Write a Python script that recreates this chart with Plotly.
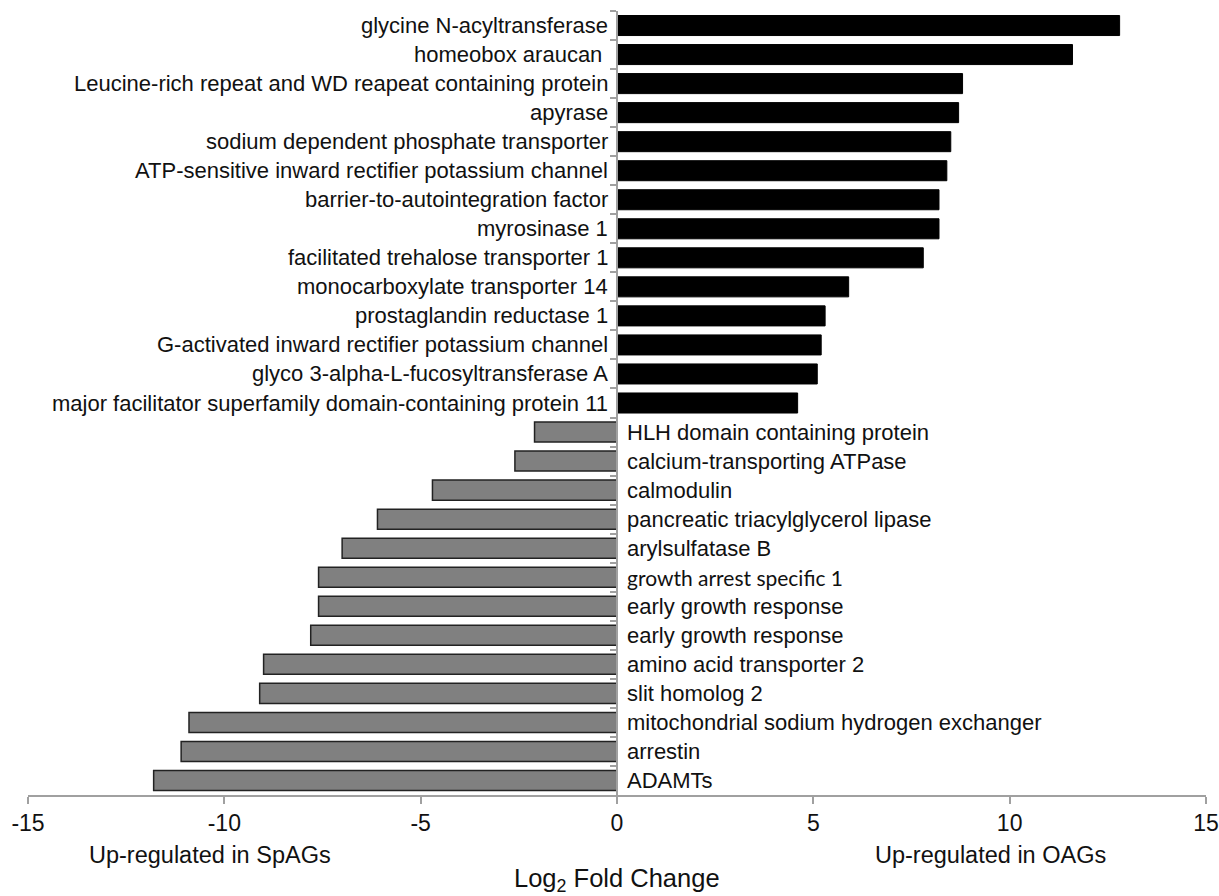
import plotly.graph_objects as go

up_genes = [
    "glycine N-acyltransferase",
    "homeobox araucan ",
    "Leucine-rich repeat and WD reapeat containing protein",
    "apyrase",
    "sodium dependent phosphate transporter",
    "ATP-sensitive inward rectifier potassium channel",
    "barrier-to-autointegration factor",
    "myrosinase 1",
    "facilitated trehalose transporter 1",
    "monocarboxylate transporter 14",
    "prostaglandin reductase 1",
    "G-activated inward rectifier potassium channel",
    "glyco 3-alpha-L-fucosyltransferase A",
    "major facilitator superfamily domain-containing protein 11",
]
up_values = [12.8, 11.6, 8.8, 8.7, 8.5, 8.4, 8.2, 8.2, 7.8, 5.9, 5.3, 5.2, 5.1, 4.6]

down_genes = [
    "HLH domain containing protein",
    "calcium-transporting ATPase",
    "calmodulin",
    "pancreatic triacylglycerol lipase",
    "arylsulfatase B",
    "growth arrest specific 1",
    "early growth response",
    "early growth response ",
    "amino acid transporter 2",
    "slit homolog 2",
    "mitochondrial sodium hydrogen exchanger",
    "arrestin",
    "ADAMTs",
]
down_values = [-2.1, -2.6, -4.7, -6.1, -7.0, -7.6, -7.6, -7.8, -9.0, -9.1, -10.9, -11.1, -11.8]

x_ticks = [-15, -10, -5, 0, 5, 10, 15]
left_note = "Up-regulated in SpAGs"
right_note = "Up-regulated in OAGs"
x_title = "Log<sub>2</sub> Fold Change"

up_ids = [f"u{i}" for i in range(len(up_genes))]
down_ids = [f"d{i}" for i in range(len(down_genes))]
all_ids = up_ids + down_ids

FONT = "Liberation Sans, Arial, sans-serif"
TXT = "#111111"

fig = go.Figure()
fig.add_trace(go.Bar(
    y=up_ids, x=up_values, orientation="h", width=0.69,
    marker=dict(color="black", line=dict(color="black", width=1)),
    showlegend=False, hoverinfo="x",
))
fig.add_trace(go.Bar(
    y=down_ids, x=down_values, orientation="h", width=0.69,
    marker=dict(color="#808080", line=dict(color="#222222", width=1.5)),
    showlegend=False, hoverinfo="x",
))

annotations = []
for gid, name in zip(up_ids, up_genes):
    annotations.append(dict(
        x=0, y=gid, xref="x", yref="y", text=name, showarrow=False,
        xanchor="right", xshift=-7, font=dict(family=FONT, size=22, color=TXT),
    ))
for gid, name in zip(down_ids, down_genes):
    special = name.startswith("growth arrest")
    fam = "Lato, Open Sans, sans-serif" if special else FONT
    sz = 21 if special else 22
    annotations.append(dict(
        x=0, y=gid, xref="x", yref="y", text=name, showarrow=False,
        xanchor="left", xshift=8, font=dict(family=fam, size=sz, color=TXT),
    ))
annotations.append(dict(x=-10.36, y=-0.077, xref="x", yref="paper", text=left_note,
                        showarrow=False, xanchor="center", yanchor="middle",
                        font=dict(family=FONT, size=23.5, color=TXT)))
annotations.append(dict(x=9.52, y=-0.077, xref="x", yref="paper", text=right_note,
                        showarrow=False, xanchor="center", yanchor="middle",
                        font=dict(family=FONT, size=23.5, color=TXT)))
annotations.append(dict(x=0, y=-0.109, xref="x", yref="paper", text=x_title,
                        showarrow=False, xanchor="center", yanchor="middle",
                        font=dict(family=FONT, size=25.5, color=TXT)))

fig.update_layout(
    width=1219, height=896,
    margin=dict(l=28, r=13, t=11, b=101, autoexpand=False),
    plot_bgcolor="white", paper_bgcolor="white",
    annotations=annotations,
    font=dict(family=FONT, size=22, color=TXT),
)
fig.update_xaxes(
    range=[-15, 15], tickvals=x_ticks, ticktext=[str(v) for v in x_ticks],
    showline=True, linecolor="#a0a0a0", linewidth=1.5,
    ticks="outside", ticklen=7, tickcolor="#a0a0a0", tickwidth=1.5,
    showgrid=False, zeroline=False, automargin=False,
    tickfont=dict(family=FONT, size=23, color=TXT),
)
fig.update_yaxes(
    type="category", categoryorder="array", categoryarray=all_ids,
    range=[len(all_ids) - 0.5, -0.5],
    showticklabels=False, showgrid=False, zeroline=False, automargin=False,
    showline=True, linecolor="#a0a0a0", linewidth=1.5,
    ticks="outside", tickson="boundaries", ticklen=6, tickcolor="#a0a0a0", tickwidth=1.5,
    anchor="free", position=0.5,
)

fig.write_html(
    "out.html",
    config={"displayModeBar": False},
    post_script="document.body.style.margin='0';document.body.style.overflow='hidden';",
)
